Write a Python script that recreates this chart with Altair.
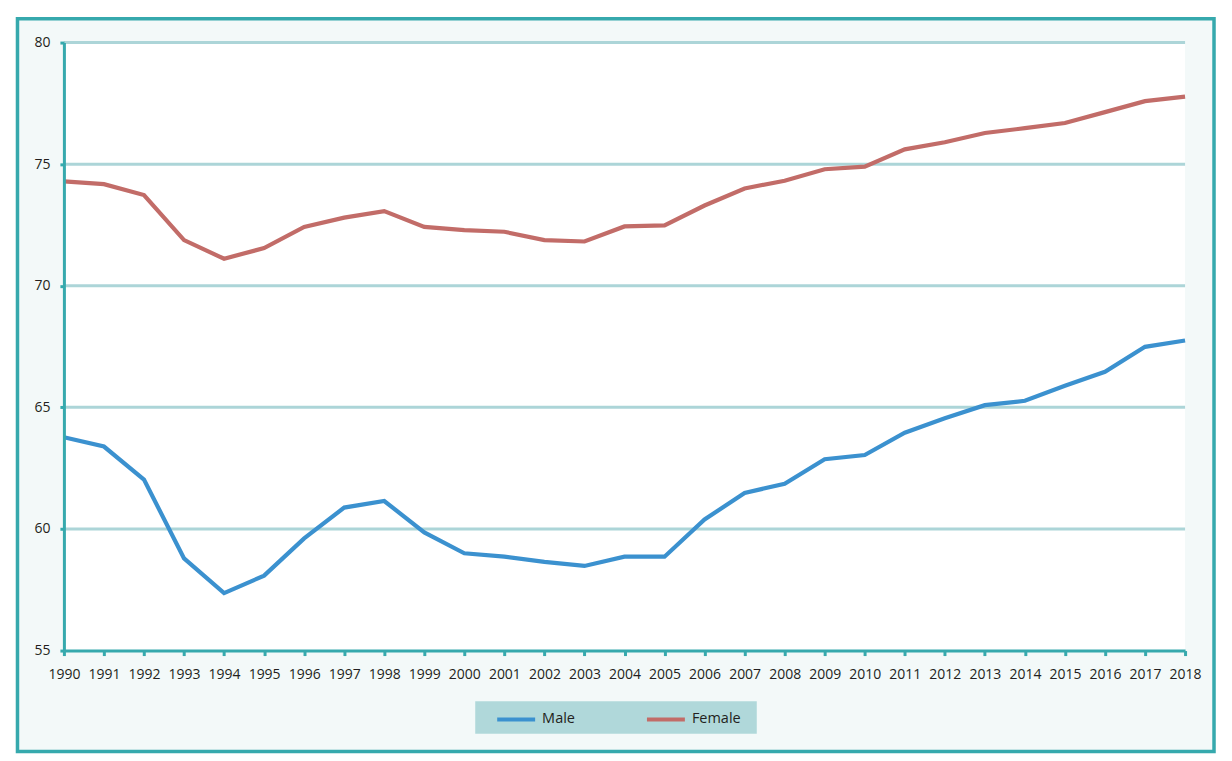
import altair as alt
import pandas as pd

years = list(range(1990, 2019))
male = [63.77, 63.39, 62.03, 58.79, 57.36, 58.08, 59.61, 60.88, 61.15, 59.86,
        59.00, 58.86, 58.65, 58.48, 58.86, 58.86, 60.39, 61.48, 61.86, 62.87,
        63.04, 63.96, 64.55, 65.09, 65.27, 65.89, 66.46, 67.49, 67.75]
female = [74.29, 74.18, 73.73, 71.88, 71.11, 71.55, 72.42, 72.80, 73.07, 72.42,
          72.29, 72.22, 71.88, 71.82, 72.44, 72.48, 73.30, 74.00, 74.32, 74.79,
          74.90, 75.61, 75.90, 76.28, 76.48, 76.69, 77.14, 77.59, 77.78]
series = ["Male", "Female"]
colors = ["#3b91cf", "#c26c68"]
grid_values = [60, 65, 70, 75, 80]
y_ticks = [55, 60, 65, 70, 75, 80]

W = 1123
H = 609

TEAL = "#36a9ad"
FONT = "Open Sans"

df = pd.DataFrame({
    "year": years * 2,
    "value": male + female,
    "series": ["Male"] * len(years) + ["Female"] * len(years),
})
one = alt.Data(values=[{"a": 1}])

yscale = alt.Scale(domain=[55, 80], nice=False, zero=False)
xscale = alt.Scale(domain=[1990, 2018], nice=False, zero=False)

yaxis = alt.Axis(values=y_ticks, grid=False, domainColor=TEAL,
                 domainWidth=3, tickColor=TEAL, tickWidth=3, tickSize=4,
                 labelPadding=10, labelFont=FONT, labelFontSize=14,
                 labelColor="#231f20", zindex=1, title=None)

frame = alt.Chart(one).mark_rect(fill="#f3f9f9", stroke=TEAL, strokeWidth=3.5).encode(
    x=alt.value(-46.5), x2=alt.value(1152), y=alt.value(-23.8), y2=alt.value(710)
)
plotbg = alt.Chart(one).mark_rect(fill="white").encode(
    x=alt.value(0), x2=alt.value(W), y=alt.value(0), y2=alt.value(H)
)
legbox = alt.Chart(one).mark_rect(fill="#b0d8da").encode(
    x=alt.value(412), x2=alt.value(694), y=alt.value(659.7), y2=alt.value(692.4)
)
grid = alt.Chart(pd.DataFrame({"value": grid_values})).mark_rule(
    color="#acd5d8", strokeWidth=3
).encode(
    y=alt.Y("value:Q", scale=yscale, axis=yaxis, title=None),
    x=alt.value(0), x2=alt.value(W),
)
lines = alt.Chart(df).mark_line(strokeWidth=4.2).encode(
    x=alt.X("year:Q", scale=xscale, title=None,
            axis=alt.Axis(values=years, format="d", labelAngle=0, grid=False,
                          domainColor=TEAL, domainWidth=3, tickColor=TEAL,
                          tickWidth=3, tickSize=5, labelPadding=12,
                          labelFont=FONT, labelFontSize=14, labelColor="#231f20",
                          labelFlush=False, labelOverlap=False, zindex=1)),
    y=alt.Y("value:Q", scale=yscale, axis=yaxis, title=None),
    color=alt.Color("series:N", scale=alt.Scale(domain=series, range=colors),
                    sort=series,
                    legend=alt.Legend(title=None, orient="none", legendX=432,
                                      legendY=657, direction="horizontal",
                                      columns=2, symbolType="stroke",
                                      symbolSize=1444, symbolStrokeWidth=4,
                                      labelFont=FONT, labelFontSize=14.5,
                                      labelColor="#231f20", labelOffset=5,
                                      padding=0, columnPadding=48,
                                      gridAlign="all")),
)

chart = alt.layer(frame, plotbg, legbox, grid, lines).properties(
    width=W, height=H,
    padding={"left": 7, "top": 8, "right": 8, "bottom": 8},
    background="white",
).configure_view(stroke=None)

chart.save("out.html", embed_options={"renderer": "svg", "actions": False})
